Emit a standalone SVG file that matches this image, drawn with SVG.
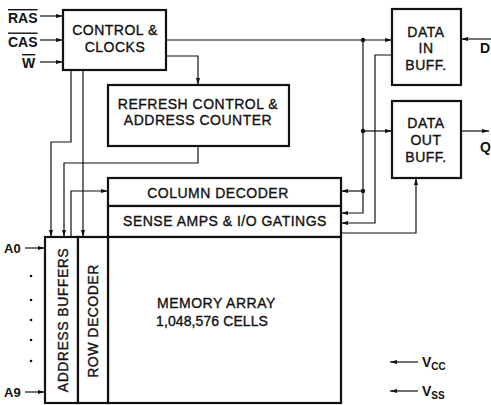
<svg xmlns="http://www.w3.org/2000/svg" width="491" height="405" viewBox="0 0 491 405">
<style>
.box{fill:#fff;stroke:#111;stroke-width:2.2}
.t{font-family:"Liberation Sans",Arial,sans-serif;font-size:14px;fill:#111;stroke:#111;stroke-width:0.35;letter-spacing:0.5px}
.m{text-anchor:middle}
.pin{font-family:"Liberation Sans",Arial,sans-serif;font-size:14px;font-weight:bold;fill:#111}
.w{fill:none;stroke:#111;stroke-width:1.2}
.a{marker-end:url(#ah)}
.dot{fill:#111}
</style>
<defs>
<marker id="ah" markerWidth="8" markerHeight="6" refX="7" refY="3" orient="auto" markerUnits="userSpaceOnUse">
<path d="M0,1 L7,3 L0,5 z" fill="#111"/>
</marker>
</defs>
<rect width="491" height="405" fill="#fff"/>

<g id="control">
<rect class="box" x="63" y="10" width="103" height="60"/>
<text class="t m" x="115" y="35">CONTROL &amp;</text>
<text class="t m" x="115" y="52">CLOCKS</text>
</g>
<g id="refresh">
<rect class="box" x="108" y="85" width="181" height="61"/>
<text class="t m" x="198" y="109">REFRESH CONTROL &amp;</text>
<text class="t m" x="198" y="125">ADDRESS COUNTER</text>
</g>
<g id="datain">
<rect class="box" x="392" y="9" width="69" height="76"/>
<text class="t m" x="426" y="37">DATA</text>
<text class="t m" x="426" y="53">IN</text>
<text class="t m" x="426" y="70">BUFF.</text>
</g>
<g id="dataout">
<rect class="box" x="392" y="101" width="69" height="77"/>
<text class="t m" x="426" y="128">DATA</text>
<text class="t m" x="426" y="145">OUT</text>
<text class="t m" x="426" y="162">BUFF.</text>
</g>
<g id="coldec">
<rect class="box" x="108" y="178" width="233" height="28"/>
<text class="t m" x="218" y="198">COLUMN DECODER</text>
</g>
<g id="senseamps">
<rect class="box" x="108" y="206" width="233" height="31"/>
<text class="t m" x="225" y="226">SENSE AMPS &amp; I/O GATINGS</text>
</g>
<g id="memarray">
<rect class="box" x="108" y="237" width="233" height="166"/>
<text class="t" x="157" y="308">MEMORY ARRAY</text>
<text class="t" x="156" y="326" style="letter-spacing:0.1px">1,048,576 CELLS</text>
</g>
<g id="addrbuf">
<rect class="box" x="45" y="237" width="33" height="166"/>
<text class="t m" transform="translate(67.5,320) rotate(-90)">ADDRESS BUFFERS</text>
</g>
<g id="rowdec">
<rect class="box" x="78" y="237" width="30" height="166"/>
<text class="t m" transform="translate(97.5,321) rotate(-90)">ROW DECODER</text>
</g>

<g id="labels">
<text class="pin" x="8" y="23" style="text-decoration:overline">RAS</text>
<text class="pin" x="8" y="46.5" style="text-decoration:overline">CAS</text>
<text class="pin" x="22" y="68" style="text-decoration:overline">W</text>
<text class="pin" x="480" y="53">D</text>
<text class="pin" x="480" y="152">Q</text>
<text class="pin" x="4" y="253" style="font-size:13px">A0</text>
<text class="pin" x="4" y="397" style="font-size:13px">A9</text>
<text class="pin" x="422" y="367">V<tspan font-size="10" dy="3">CC</tspan></text>
<text class="pin" x="422" y="396">V<tspan font-size="10" dy="3">SS</tspan></text>
<circle class="dot" cx="31" cy="276" r="1.3"/>
<circle class="dot" cx="31" cy="300" r="1.3"/>
<circle class="dot" cx="31" cy="320" r="1.3"/>
<circle class="dot" cx="31" cy="340" r="1.3"/>
<circle class="dot" cx="31" cy="361" r="1.3"/>
</g>

<g id="connectors">
<path class="w a" d="M40,16 H63"/>
<path class="w a" d="M40,40 H63"/>
<path class="w a" d="M40,62 H63"/>
<path class="w a" d="M166,40 H392"/>
<path class="w a" d="M363,40 V213 H341"/>
<path class="w a" d="M363,131 H392"/>
<path class="w a" d="M363,191 H341"/>
<path class="w a" d="M392,55 H375 V223 H341"/>
<path class="w a" d="M341,233 H416 V178"/>
<path class="w a" d="M491,39 H461"/>
<path class="w a" d="M461,131 H489"/>
<path class="w a" d="M166,56 H198 V85"/>
<path class="w a" d="M71,70 V142 H51 V237"/>
<path class="w a" d="M83,70 V237"/>
<path class="w a" d="M198,146 V163 H64 V237"/>
<path class="w a" d="M71,237 V191 H108"/>
<path class="w a" d="M25,248 H45"/>
<path class="w a" d="M25,392 H45"/>
<path class="w a" d="M418,362 H390"/>
<path class="w a" d="M418,391 H390"/>
<circle class="dot" cx="363" cy="40" r="2.2"/>
<circle class="dot" cx="363" cy="131" r="2.2"/>
<circle class="dot" cx="363" cy="191" r="2.2"/>
</g>
</svg>
